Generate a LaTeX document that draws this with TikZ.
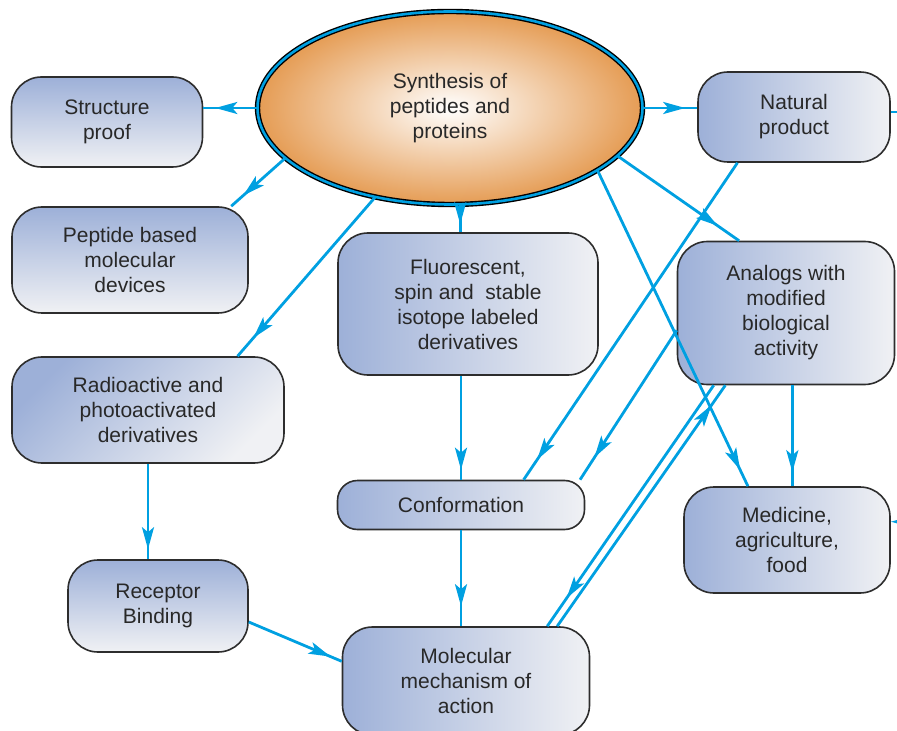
\documentclass[tikz,border=0pt]{standalone}
\usepackage{fontspec}
\setmainfont{Liberation Sans}
\usetikzlibrary{shapes,arrows.meta,decorations.markings}
\definecolor{lineblue}{RGB}{0,160,225}
\definecolor{boxblue}{RGB}{157,176,216}
\definecolor{boxwhite}{RGB}{240,241,244}
\definecolor{synthorange}{RGB}{229,156,84}
\definecolor{edgegray}{RGB}{45,45,45}
\definecolor{textgray}{RGB}{40,40,40}

\begin{document}
\begin{tikzpicture}[x=0.5pt,y=-0.5pt,font=\fontsize{10.5}{12.5}\selectfont,
	topic/.style={draw=edgegray,line width=0.8pt,rounded corners=15pt,align=center,text=textgray,inner sep=2pt},
	hbox/.style={topic,left color=boxblue,right color=boxwhite},
	vbox/.style={topic,top color=boxblue,bottom color=boxwhite},
	arr/.style={draw=lineblue,line width=1.4pt,postaction={decorate},
		decoration={markings,mark=at position -#1 with {\arrow{Stealth[length=11pt,width=6pt,inset=2.5pt]}}}},
	arr/.default=6pt]
	\useasboundingbox (0,0) rectangle (897,731);
	\node[ellipse,minimum width=192.5pt,minimum height=96.5pt,inner sep=0pt,draw=black,line width=0.7pt,double=lineblue,double distance=1.3pt,inner color=white,outer color=synthorange,align=center,text=textgray] (synth) at (450,108) {Synthesis of\\peptides and\\proteins};
	\node[vbox,minimum width=95.5pt,minimum height=45pt] (struct) at (107,122) {Structure\\proof};
	\node[vbox,minimum width=118pt,minimum height=53pt] (peptide) at (130,260) {Peptide based\\molecular\\devices};
	\node[vbox,shading angle=45,minimum width=136pt,minimum height=53pt] (radio) at (148,410) {Radioactive and\\photoactivated\\derivatives};
	\node[vbox,minimum width=90pt,minimum height=46pt] (receptor) at (158,606) {Receptor\\Binding};
	\node[hbox,minimum width=130pt,minimum height=71pt] (fluor) at (468,304) {Fluorescent,\\spin and\ \ stable\\isotope labeled\\derivatives};
	\node[hbox,rounded corners=10pt,minimum width=123.5pt,minimum height=24.5pt] (conf) at (461,505) {Conformation};
	\node[hbox,minimum width=123.5pt,minimum height=54pt] (molec) at (466,681) {Molecular\\mechanism of\\action};
	\node[hbox,minimum width=96pt,minimum height=45pt] (natural) at (794,117) {Natural\\product};
	\node[hbox,minimum width=108.5pt,minimum height=71.5pt] (analogs) at (786,313) {Analogs with\\modified\\biological\\activity};
	\node[hbox,minimum width=103pt,minimum height=53pt] (medicine) at (787,540) {Medicine,\\agriculture,\\food};
	\draw[arr] (synth.west) -- (synth.west -| struct.east);
	\draw[arr=8pt] (synth.197) -- (peptide.28);
	\draw[arr=12pt] (synth.230) -- (radio.31);
	\draw[arr=4pt] (synth.276) -- (synth.276 |- fluor.north);
	\draw[arr] (synth.east) -- (synth.east -| natural.west);
	\draw[arr=13pt] (synth.344) -- (analogs.123);
	\draw[arr=9pt] (synth.337) -- (medicine.126);
	\draw[arr=12pt] (natural.219) -- (conf.22);
	\draw[arr=13pt] (analogs.189) -- (conf.12);
	\draw[arr=17pt] (analogs.225) -- (molec.34);
	\draw[arr=12pt] (molec.31) -- (analogs.230);
	\draw[arr=7pt] (analogs.275) -- (analogs.275 |- medicine.north);
	\draw[arr=5pt] (conf.north |- fluor.south) -- (conf.north);
	\draw[arr=10pt] (conf.south) -- (conf.south |- molec.north);
	\draw[arr=5pt] (radio.south) -- (radio.south |- receptor.north);
	\draw[arr] (receptor.350) -- (molec.171);
	\draw[draw=lineblue,line width=1.4pt,-{Stealth[length=11pt,width=6pt,inset=2.5pt]}] (natural.3) -- ++(30,0) |- (medicine.10);
\end{tikzpicture}
\end{document}
